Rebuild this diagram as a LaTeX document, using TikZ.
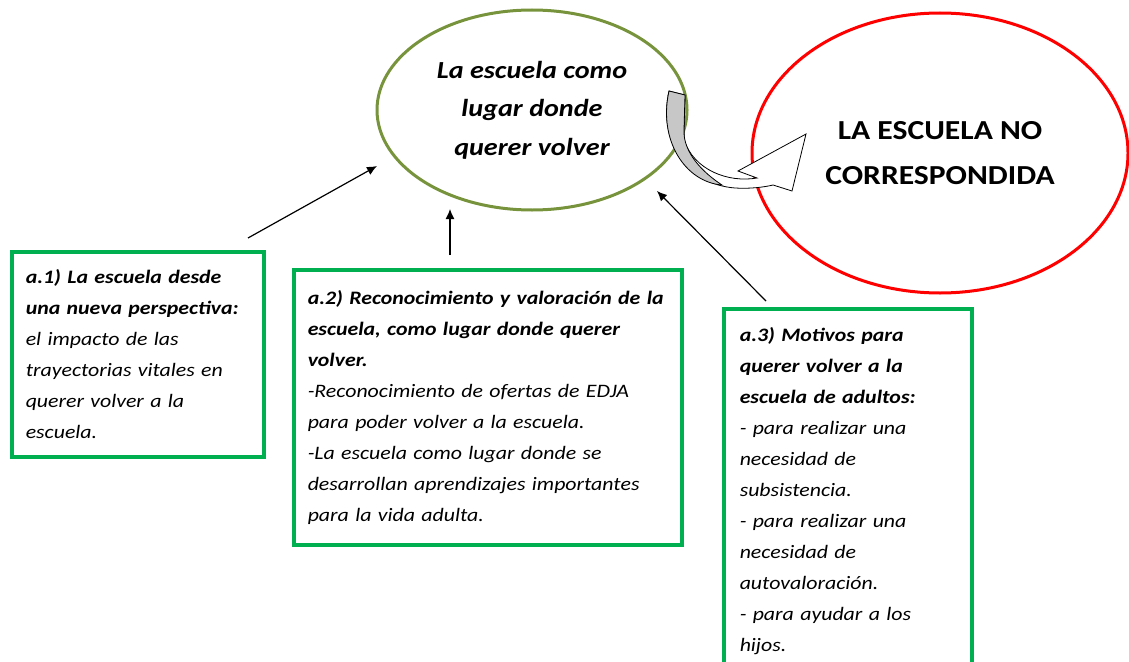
\documentclass[tikz,border=0pt]{standalone}
\usepackage{xcolor}
\usepackage{fontspec}
\setmainfont{Carlito}[FakeStretch=1.15]
\usepackage{tikz}
\usetikzlibrary{shapes,arrows.meta}
\definecolor{olivegreen}{HTML}{77933C}
\definecolor{boxgreen}{HTML}{00B050}
\tikzset{
  lugarstyle/.style={ellipse, draw=olivegreen, line width=3pt, minimum width=310pt, minimum height=200pt, align=center, font=\fontsize{24.5}{38.5}\selectfont\bfseries\itshape},
  noresp/.style={ellipse, draw=red, line width=3pt, minimum width=376pt, minimum height=280pt, align=center, font=\fontsize{27.5}{45}\selectfont\bfseries},
  catbox/.style={rectangle, draw=boxgreen, line width=3.5pt, anchor=north west, align=left, inner ysep=8pt, font=\fontsize{19}{31}\selectfont\itshape},
  link/.style={line width=1.2pt, -{Latex[length=10pt,width=9pt]}}
}

\begin{document}
\begin{tikzpicture}[x=1pt,y=-1pt]
\useasboundingbox (0,0) rectangle (1129,661);
\node[lugarstyle] (lugar) at (532,110) {La escuela como\\ lugar donde\\ querer volver};
\node[noresp] (noresp) at (940,153) {LA ESCUELA NO\\ CORRESPONDIDA};
\node[catbox, inner xsep=14pt, text width=224pt, minimum height=205pt] (a1) at (10,250) {\textbf{a.1) La escuela desde\\ una nueva perspectiva:}\\ el impacto de las\\ trayectorias vitales en\\ querer volver a la\\ escuela.};
\node[catbox, inner xsep=14pt, text width=360pt, minimum height=275pt] (a2) at (292,268) {\textbf{a.2) Reconocimiento y valoración de la\\ escuela, como lugar donde querer\\ volver.}\\ -Reconocimiento de ofertas de EDJA\\ para poder volver a la escuela.\\ -La escuela como lugar donde se\\ desarrollan aprendizajes importantes\\ para la vida adulta.};
\node[catbox, inner xsep=16pt, text width=216pt, minimum height=364pt] (a3) at (722,307) {\textbf{a.3) Motivos para\\ querer volver a la\\ escuela de adultos:}\\ - para realizar una\\ necesidad de\\ subsistencia.\\ - para realizar una\\ necesidad de\\ autovaloración.\\ - para ayudar a los\\ hijos.};
\coordinate (f1) at (248,238);
\coordinate (h1) at (377,166);
\coordinate (f2) at (450,255);
\coordinate (h2) at (450,209);
\coordinate (f3) at (766,301);
\coordinate (h3) at (657,191);
\draw[link] (f1) -- (h1);
\draw[link] (f2) -- (h2);
\draw[link] (f3) -- (h3);
\filldraw[fill=white, line width=0.8pt] (669,91) .. controls (658,140) and (685,184) .. (735,188) .. controls (750,189) and (765,187) .. (773,185) -- (792,191) -- (806,134) -- (738,171) -- (757,178) .. controls (728,183) and (694,170) .. (684,140) -- (685,95) -- cycle;
\filldraw[fill=black!22, line width=0.8pt] (669,91) .. controls (658,140) and (685,182) .. (722,185) .. controls (702,172) and (683,152) .. (684,130) -- (685,95) -- cycle;
\end{tikzpicture}
\end{document}
